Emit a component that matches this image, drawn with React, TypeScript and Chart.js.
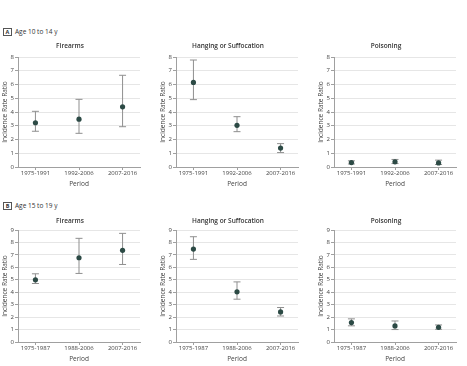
import React, { useEffect, useRef } from "react";
import { Chart, registerables } from "chart.js";

Chart.register(...registerables);

const periodsA = ["1975-1991", "1992-2006", "2007-2016"];
const periodsB = ["1975-1987", "1988-2006", "2007-2016"];

const panelTitles = ["Firearms", "Hanging or Suffocation", "Poisoning"];

// Age 10 to 14 y
const firearmsA = [3.22, 3.48, 4.38];
const firearmsALow = [2.6, 2.45, 2.93];
const firearmsAHigh = [4.05, 4.92, 6.67];
const hangingA = [6.15, 3.03, 1.38];
const hangingALow = [4.9, 2.57, 1.05];
const hangingAHigh = [7.78, 3.66, 1.7];
const poisonA = [0.32, 0.38, 0.3];
const poisonALow = [0.22, 0.25, 0.18];
const poisonAHigh = [0.45, 0.55, 0.5];

// Age 15 to 19 y
const firearmsB = [5.0, 6.77, 7.37];
const firearmsBLow = [4.7, 5.51, 6.23];
const firearmsBHigh = [5.48, 8.33, 8.73];
const hangingB = [7.47, 4.03, 2.42];
const hangingBLow = [6.64, 3.44, 2.09];
const hangingBHigh = [8.46, 4.83, 2.77];
const poisonB = [1.56, 1.29, 1.18];
const poisonBLow = [1.3, 1.0, 1.02];
const poisonBHigh = [1.86, 1.69, 1.37];

const yMaxA = 8;
const yMaxB = 9;

const FONT = '"Open Sans", "Noto Sans", sans-serif';
const DOT = "#2c4a45";
const BAR = "#8f8f8f";
const AXIS = "#a0a0a0";
const GRID = "#e6e6e6";
const TEXT = "#444";

type PanelProps = {
  title: string;
  periods: string[];
  mid: number[];
  low: number[];
  high: number[];
  yMax: number;
  titlePadTop: number;
  titlePadBottom: number;
  left: number;
  top: number;
  height: number;
};

function Panel(p: PanelProps) {
  const ref = useRef<HTMLCanvasElement | null>(null);
  useEffect(() => {
    if (!ref.current) return;
    const errData: { x: number; y: number | null }[] = [];
    p.mid.forEach((_, i) => {
      errData.push({ x: i, y: p.low[i] });
      errData.push({ x: i, y: p.high[i] });
      errData.push({ x: i, y: null });
    });
    const chart = new Chart(ref.current, {
      type: "scatter",
      data: {
        datasets: [
          {
            data: p.mid.map((v, i) => ({ x: i, y: v })),
            pointRadius: 2.6,
            pointBackgroundColor: DOT,
            pointBorderColor: DOT,
            pointBorderWidth: 0,
            order: 0,
          },
          {
            data: errData as any,
            showLine: true,
            spanGaps: false,
            borderColor: BAR,
            borderWidth: 1,
            pointStyle: "line",
            pointRadius: 3.5,
            pointBorderColor: BAR,
            pointBorderWidth: 1,
            order: 1,
          },
        ],
      },
      options: {
        animation: false,
        responsive: false,
        devicePixelRatio: 1,
        events: [],
        layout: { padding: { left: 0, right: 10, top: 0, bottom: 0 } },
        plugins: {
          legend: { display: false },
          tooltip: { enabled: false },
          title: {
            display: true,
            text: p.title,
            color: "#333",
            font: { family: FONT, size: 6.5, weight: "600" as any, lineHeight: 1.2 },
            padding: { top: p.titlePadTop, bottom: p.titlePadBottom },
          },
        },
        scales: {
          x: {
            type: "linear",
            min: -0.4,
            max: 2.4,
            afterBuildTicks: (s: any) => {
              s.ticks = p.periods.map((_, i) => ({ value: i }));
            },
            afterFit: (s: any) => {
              s.height = 23;
            },
            ticks: {
              color: TEXT,
              font: { family: FONT, size: 6 },
              padding: 0,
              maxRotation: 0,
              autoSkip: false,
              callback: (v: any) => p.periods[v] ?? "",
            },
            grid: {
              drawOnChartArea: false,
              drawTicks: true,
              tickLength: 3,
              tickColor: AXIS,
            },
            border: { color: AXIS, width: 1 },
            title: {
              display: true,
              text: "Period",
              color: TEXT,
              font: { family: FONT, size: 6.5, lineHeight: 1.2 },
              padding: { top: 0, bottom: 1.5 },
            },
          },
          y: {
            min: 0,
            max: p.yMax,
            afterFit: (s: any) => {
              s.width = 18;
            },
            ticks: {
              stepSize: 1,
              color: TEXT,
              font: { family: FONT, size: 6 },
              padding: 1,
            },
            grid: {
              color: GRID,
              lineWidth: 1,
              tickLength: 3,
              tickColor: AXIS,
            },
            border: { color: AXIS, width: 1 },
            title: {
              display: true,
              text: "Incidence Rate Ratio",
              color: TEXT,
              font: { family: FONT, size: 6.5, lineHeight: 1.2 },
              padding: { top: 1.5, bottom: 0 },
            },
          },
        },
      },
    });
    return () => chart.destroy();
  }, []);
  return (
    <canvas
      ref={ref}
      width={150}
      height={p.height}
      style={{ position: "absolute", left: p.left, top: p.top, width: 150, height: p.height }}
    />
  );
}

function Label({ letter, text, top }: { letter: string; text: string; top: number }) {
  return (
    <div
      style={{
        position: "absolute",
        left: 3,
        top,
        display: "flex",
        alignItems: "center",
        fontFamily: FONT,
        fontSize: 6.5,
        color: "#333",
      }}
    >
      <span
        style={{
          display: "inline-block",
          width: 7,
          height: 6,
          border: "1px solid #555",
          fontSize: 5.5,
          fontWeight: 700,
          lineHeight: "6px",
          textAlign: "center",
          marginRight: 3,
        }}
      >
        {letter}
      </span>
      <span>{text}</span>
    </div>
  );
}

export default function App() {
  const lefts = [0, 158, 316];
  const rowA = [
    [firearmsA, firearmsALow, firearmsAHigh],
    [hangingA, hangingALow, hangingAHigh],
    [poisonA, poisonALow, poisonAHigh],
  ];
  const rowB = [
    [firearmsB, firearmsBLow, firearmsBHigh],
    [hangingB, hangingBLow, hangingBHigh],
    [poisonB, poisonBLow, poisonBHigh],
  ];
  return (
    <div
      style={{
        position: "fixed",
        left: 0,
        top: 0,
        width: 467,
        height: 366,
        background: "#fff",
        overflow: "hidden",
      }}
    >
      <Label letter="A" text="Age 10 to 14 y" top={27} />
      <Label letter="B" text="Age 15 to 19 y" top={201} />
      {rowA.map((d, i) => (
        <Panel
          key={"a" + i}
          title={panelTitles[i]}
          periods={periodsA}
          mid={d[0]}
          low={d[1]}
          high={d[2]}
          yMax={yMaxA}
          titlePadTop={2.5}
          titlePadBottom={6.7}
          left={lefts[i]}
          top={40}
          height={150}
        />
      ))}
      {rowB.map((d, i) => (
        <Panel
          key={"b" + i}
          title={panelTitles[i]}
          periods={periodsB}
          mid={d[0]}
          low={d[1]}
          high={d[2]}
          yMax={yMaxB}
          titlePadTop={4}
          titlePadBottom={5.2}
          left={lefts[i]}
          top={213}
          height={152}
        />
      ))}
    </div>
  );
}
